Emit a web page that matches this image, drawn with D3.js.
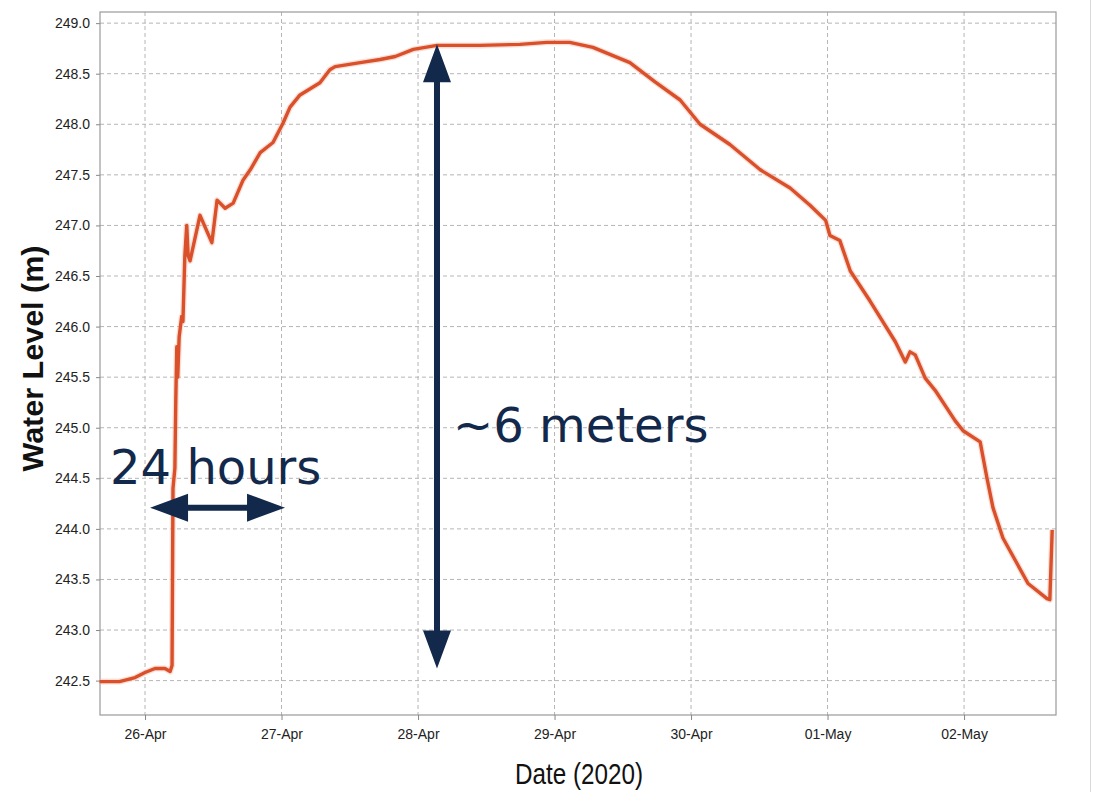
<!DOCTYPE html>
<html>
<head>
<meta charset="utf-8">
<script src="https://cdn.jsdelivr.net/npm/d3@7"></script>
<style>
  body { margin: 0; background: #fff; }
  .tick text { font-family: "Liberation Sans Narrow", "Liberation Sans", Arial, sans-serif; font-size: 14px; fill: #222; }
  .grid line { stroke: #b5b5b5; stroke-dasharray: 4,3; }
  .annot { font-family: Verdana, "DejaVu Sans", sans-serif; font-size: 48px; fill: #13294b; }
</style>
</head>
<body>
<div id="chart"></div>
<script>
const MARGIN = { TOP: 12, BOTTOM: 77, LEFT: 100, RIGHT: 38 };
const W = 1094, H = 792;
const WIDTH = W - MARGIN.LEFT - MARGIN.RIGHT;
const HEIGHT = H - MARGIN.TOP - MARGIN.BOTTOM;

// water level readings
const times = [
  "2020-04-25 16:00", "2020-04-25 19:30", "2020-04-25 22:15", "2020-04-26 00:00",
  "2020-04-26 01:45", "2020-04-26 03:30", "2020-04-26 04:25", "2020-04-26 04:45",
  "2020-04-26 04:55", "2020-04-26 05:15", "2020-04-26 05:25", "2020-04-26 05:35",
  "2020-04-26 05:45", "2020-04-26 06:00", "2020-04-26 06:27", "2020-04-26 06:40",
  "2020-04-26 07:00", "2020-04-26 07:20", "2020-04-26 07:35", "2020-04-26 07:55",
  "2020-04-26 09:40", "2020-04-26 11:45", "2020-04-26 12:40", "2020-04-26 14:05",
  "2020-04-26 15:30", "2020-04-26 17:15", "2020-04-26 18:30", "2020-04-26 20:15",
  "2020-04-26 22:30", "2020-04-27 00:15", "2020-04-27 01:30", "2020-04-27 03:15",
  "2020-04-27 06:45", "2020-04-27 08:30", "2020-04-27 09:25", "2020-04-27 13:50",
  "2020-04-27 17:20", "2020-04-27 20:00", "2020-04-27 23:10", "2020-04-28 03:20",
  "2020-04-28 10:55", "2020-04-28 17:55", "2020-04-28 22:40", "2020-04-29 02:40",
  "2020-04-29 06:45", "2020-04-29 13:15", "2020-04-29 17:40", "2020-04-29 22:05",
  "2020-04-30 01:35", "2020-04-30 06:50", "2020-04-30 12:10", "2020-04-30 17:25",
  "2020-04-30 20:55", "2020-04-30 23:40", "2020-05-01 00:25", "2020-05-01 02:10",
  "2020-05-01 04:00", "2020-05-01 07:30", "2020-05-01 11:55", "2020-05-01 13:40",
  "2020-05-01 14:30", "2020-05-01 15:25", "2020-05-01 17:10", "2020-05-01 18:55",
  "2020-05-01 22:25", "2020-05-01 23:50", "2020-05-02 02:50", "2020-05-02 04:00",
  "2020-05-02 05:05", "2020-05-02 06:50", "2020-05-02 09:00", "2020-05-02 11:15",
  "2020-05-02 14:35", "2020-05-02 15:05", "2020-05-02 15:30"
];
const levels = [
  242.49, 242.49, 242.53, 242.58,
  242.62, 242.62, 242.59, 242.65,
  244.40, 244.60, 245.30, 245.80,
  245.50, 245.90, 246.10, 246.05,
  246.70, 247.00, 246.70, 246.65,
  247.10, 246.83, 247.25, 247.17,
  247.22, 247.45, 247.55, 247.72,
  247.82, 248.01, 248.17, 248.29,
  248.41, 248.54, 248.57, 248.61,
  248.64, 248.67, 248.74, 248.78,
  248.78, 248.79, 248.81, 248.81,
  248.76, 248.61, 248.42, 248.24,
  248.00, 247.80, 247.55, 247.37,
  247.20, 247.05, 246.90, 246.85,
  246.55, 246.25, 245.85, 245.65,
  245.75, 245.72, 245.49, 245.37,
  245.07, 244.97, 244.86, 244.51,
  244.21, 243.91, 243.69, 243.46,
  243.31, 243.30, 243.99
];

const xDomain = ["2020-04-25 16:05", "2020-05-02 16:10"];
const yDomain = [242.16, 249.11];
const yTicks = [242.5, 243, 243.5, 244, 244.5, 245, 245.5, 246, 246.5, 247, 247.5, 248, 248.5, 249];
const xTicks = ["2020-04-26", "2020-04-27", "2020-04-28", "2020-04-29", "2020-04-30", "2020-05-01", "2020-05-02"];

// annotations
const spanArrow = { from: "2020-04-26 00:53", to: "2020-04-27 00:37", level: 244.21, label: "24 hours" };
const riseArrow = { time: "2020-04-28 03:20", from: 242.62, to: 248.79, labelAt: 244.86, label: "~6 meters" };

const parse = d3.timeParse("%Y-%m-%d %H:%M");
const parseDay = d3.timeParse("%Y-%m-%d");
const data = times.map((t, i) => ({ t: parse(t), v: levels[i] }));

const svg = d3.select("#chart").append("svg")
    .attr("width", W)
    .attr("height", H);

// faint page edge on the right
svg.append("line")
    .attr("x1", 1090.5).attr("x2", 1090.5)
    .attr("y1", 0).attr("y2", H)
    .attr("stroke", "#d8d8d8");

const g = svg.append("g")
    .attr("transform", `translate(${MARGIN.LEFT}, ${MARGIN.TOP})`);

const x = d3.scaleTime()
    .domain(xDomain.map(parse))
    .range([0, WIDTH]);

const y = d3.scaleLinear()
    .domain(yDomain)
    .range([HEIGHT, 0]);

// grid
g.append("g").attr("class", "grid")
    .selectAll("line").data(yTicks).enter().append("line")
        .attr("x1", 0).attr("x2", WIDTH)
        .attr("y1", d => y(d)).attr("y2", d => y(d));

g.append("g").attr("class", "grid")
    .selectAll("line").data(xTicks).enter().append("line")
        .attr("x1", d => x(parseDay(d))).attr("x2", d => x(parseDay(d)))
        .attr("y1", 0).attr("y2", HEIGHT);

// frame
g.append("rect")
    .attr("width", WIDTH)
    .attr("height", HEIGHT)
    .attr("fill", "none")
    .attr("stroke", "#9a9a9a")
    .attr("stroke-width", 1.2);

// axes
const xAxisCall = d3.axisBottom(x)
    .tickValues(xTicks.map(parseDay))
    .tickFormat(d3.timeFormat("%d-%b"))
    .tickSize(5)
    .tickPadding(9);
const xAxis = g.append("g")
    .attr("transform", `translate(0, ${HEIGHT})`)
    .call(xAxisCall);

const yAxisCall = d3.axisLeft(y)
    .tickValues(yTicks)
    .tickFormat(d3.format(".1f"))
    .tickSize(4)
    .tickPadding(6);
const yAxis = g.append("g").call(yAxisCall);

[xAxis, yAxis].forEach(a => {
    a.select(".domain").remove();
    a.selectAll(".tick line").attr("stroke", "#888");
});

// labels (narrow face in the original, so squeeze to width)
g.append("text")
    .attr("x", WIDTH / 2 + 1)
    .attr("y", HEIGHT + 69)
    .attr("text-anchor", "middle")
    .attr("font-family", "'Liberation Sans Narrow', 'Liberation Sans', Arial, sans-serif")
    .attr("font-size", 29)
    .attr("textLength", 128)
    .attr("lengthAdjust", "spacingAndGlyphs")
    .attr("fill", "#111")
    .text("Date (2020)");

g.append("text")
    .attr("x", -346.5)
    .attr("y", -57)
    .attr("text-anchor", "middle")
    .attr("transform", "rotate(-90)")
    .attr("font-family", "'Liberation Sans', Arial, sans-serif")
    .attr("font-weight", "bold")
    .attr("font-size", 29)
    .attr("textLength", 226)
    .attr("lengthAdjust", "spacingAndGlyphs")
    .attr("fill", "#111")
    .text("Water Level (m)");

// series line
const line = d3.line()
    .x(d => x(d.t))
    .y(d => y(d.v));

g.append("path")
    .datum(data)
    .attr("fill", "none")
    .attr("stroke", "#f4b9a4")
    .attr("stroke-width", 6)
    .attr("stroke-opacity", 0.45)
    .attr("stroke-linejoin", "round")
    .attr("d", line);

g.append("path")
    .datum(data)
    .attr("fill", "none")
    .attr("stroke", "#d9502b")
    .attr("stroke-width", 3.4)
    .attr("stroke-linejoin", "round")
    .attr("d", line);

// annotation arrows
const NAVY = "#13294b";
const HEAD_L = 38, HEAD_W = 14, SHAFT = 3;

function arrowH(x1, x2, yy) {
    return `M${x1},${yy} L${x1 + HEAD_L},${yy - HEAD_W} L${x1 + HEAD_L},${yy - SHAFT}
            L${x2 - HEAD_L},${yy - SHAFT} L${x2 - HEAD_L},${yy - HEAD_W} L${x2},${yy}
            L${x2 - HEAD_L},${yy + HEAD_W} L${x2 - HEAD_L},${yy + SHAFT}
            L${x1 + HEAD_L},${yy + SHAFT} L${x1 + HEAD_L},${yy + HEAD_W} Z`;
}
function arrowV(xx, y1, y2) {
    return `M${xx},${y1} L${xx + HEAD_W},${y1 + HEAD_L} L${xx + SHAFT},${y1 + HEAD_L}
            L${xx + SHAFT},${y2 - HEAD_L} L${xx + HEAD_W},${y2 - HEAD_L} L${xx},${y2}
            L${xx - HEAD_W},${y2 - HEAD_L} L${xx - SHAFT},${y2 - HEAD_L}
            L${xx - SHAFT},${y1 + HEAD_L} L${xx - HEAD_W},${y1 + HEAD_L} Z`;
}

const sx1 = x(parse(spanArrow.from)), sx2 = x(parse(spanArrow.to)), sy = y(spanArrow.level);
g.append("path").attr("d", arrowH(sx1, sx2, sy)).attr("fill", NAVY);
g.append("text")
    .attr("class", "annot")
    .attr("x", sx1 - 40)
    .attr("y", sy - 24)
    .text(spanArrow.label);

const rx = x(parse(riseArrow.time));
g.append("path").attr("d", arrowV(rx, y(riseArrow.to), y(riseArrow.from))).attr("fill", NAVY);
g.append("text")
    .attr("class", "annot")
    .attr("x", rx + 16)
    .attr("y", y(riseArrow.labelAt))
    .text(riseArrow.label);
</script>
</body>
</html>
